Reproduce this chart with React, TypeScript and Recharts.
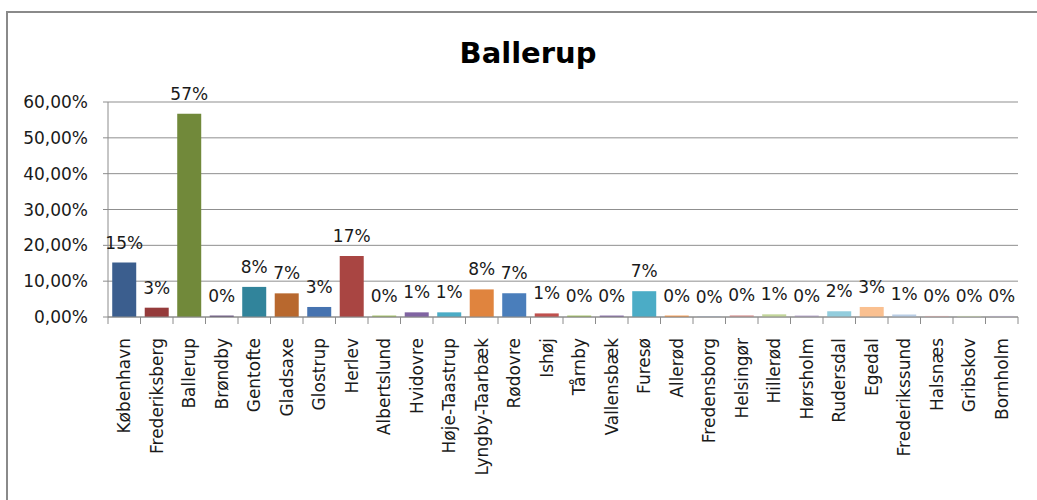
import { BarChart, Bar, XAxis, YAxis, CartesianGrid, Cell, LabelList } from 'recharts';

const municipalities = [
  'København', 'Frederiksberg', 'Ballerup', 'Brøndby', 'Gentofte', 'Gladsaxe', 'Glostrup', 'Herlev',
  'Albertslund', 'Hvidovre', 'Høje-Taastrup', 'Lyngby-Taarbæk', 'Rødovre', 'Ishøj', 'Tårnby',
  'Vallensbæk', 'Furesø', 'Allerød', 'Fredensborg', 'Helsingør', 'Hillerød', 'Hørsholm',
  'Rudersdal', 'Egedal', 'Frederikssund', 'Halsnæs', 'Gribskov', 'Bornholm',
];

// share in percent
const shares = [
  15.2, 2.6, 56.7, 0.4, 8.4, 6.6, 2.8, 17.0,
  0.4, 1.3, 1.3, 7.7, 6.6, 1.0, 0.4,
  0.4, 7.2, 0.4, 0.1, 0.45, 0.75, 0.4,
  1.6, 2.8, 0.7, 0.3, 0.3, 0.3,
];

const barColors = [
  '#3b5e8e', '#953b3b', '#71893a', '#5f497a', '#31849b', '#b8682e', '#4673b0', '#a94542',
  '#9bbb59', '#8064a2', '#4bacc6', '#e0843e', '#4a7ebb', '#c0504d', '#9bbb59',
  '#8064a2', '#4bacc6', '#f79646', '#95b3d7', '#d99694', '#c3d69b', '#b3a2c7',
  '#93cddd', '#fac090', '#b9cde5', '#e6b9b8', '#d7e4bd', '#ccc1da',
];

const yTicks = [0, 10, 20, 30, 40, 50, 60];

const data = municipalities.map((name, i) => ({ name, share: shares[i] }));

const FONT = '"DejaVu Sans", sans-serif';

function CategoryTick(props: any) {
  const { x, y, payload, index } = props;
  const half = payload.offset ?? 16.25;
  const isLast = index === municipalities.length - 1;
  return (
    <g>
      <line x1={x - half} y1={y} x2={x - half} y2={y + 7} stroke="#8c8c8c" />
      {isLast && <line x1={x + half} y1={y} x2={x + half} y2={y + 7} stroke="#8c8c8c" />}
      <text
        x={x}
        y={y + 21}
        transform={`rotate(-90 ${x} ${y + 21})`}
        textAnchor="end"
        dominantBaseline="central"
        fontSize={17}
        fontFamily={FONT}
        fill="#1a1a1a"
      >
        {payload.value}
      </text>
    </g>
  );
}

function ShareLabel(props: any) {
  const { x, y, width, value } = props;
  return (
    <text
      x={x + width / 2}
      y={y - 20}
      textAnchor="middle"
      dominantBaseline="central"
      fontSize={17}
      fontFamily={FONT}
      fill="#1a1a1a"
    >
      {`${Math.round(value)}%`}
    </text>
  );
}

export default function App() {
  return (
    <div style={{ position: 'absolute', left: 0, top: 0, width: 1037, height: 500, background: '#fff', overflow: 'hidden' }}>
      <div style={{ position: 'absolute', left: 6, top: 11, width: 1100, height: 600, border: '2px solid #8a8a8a' }} />
      <svg style={{ position: 'absolute', left: 0, top: 0 }} width={1037} height={80}>
        <text x={528} y={63} textAnchor="middle" fontSize={29} fontWeight="bold" fontFamily={FONT} fill="#000">
          Ballerup
        </text>
      </svg>
      <div style={{ position: 'absolute', left: 0, top: 0 }}>
        <BarChart
          width={1037}
          height={500}
          data={data}
          margin={{ top: 102, right: 19, bottom: 0, left: 0 }}
          barCategoryGap="13%"
        >
          <CartesianGrid vertical={false} stroke="#8f8f8f" />
          <XAxis
            dataKey="name"
            interval={0}
            height={183}
            tickSize={0}
            tickMargin={0}
            tick={<CategoryTick />}
            axisLine={{ stroke: '#8c8c8c' }}
            tickLine={false}
          />
          <YAxis
            width={108}
            domain={[0, 60]}
            ticks={yTicks}
            interval={0}
            tickFormatter={(v: number) => `${v},00%`}
            tickSize={5}
            tickMargin={15}
            axisLine={{ stroke: '#8c8c8c' }}
            tickLine={{ stroke: '#8c8c8c' }}
            tick={{ fontSize: 17, fontFamily: FONT, fill: '#1a1a1a' }}
          />
          <Bar dataKey="share" isAnimationActive={false}>
            {data.map((d, i) => (
              <Cell key={d.name} fill={barColors[i]} />
            ))}
            <LabelList dataKey="share" content={<ShareLabel />} />
          </Bar>
        </BarChart>
      </div>
    </div>
  );
}
